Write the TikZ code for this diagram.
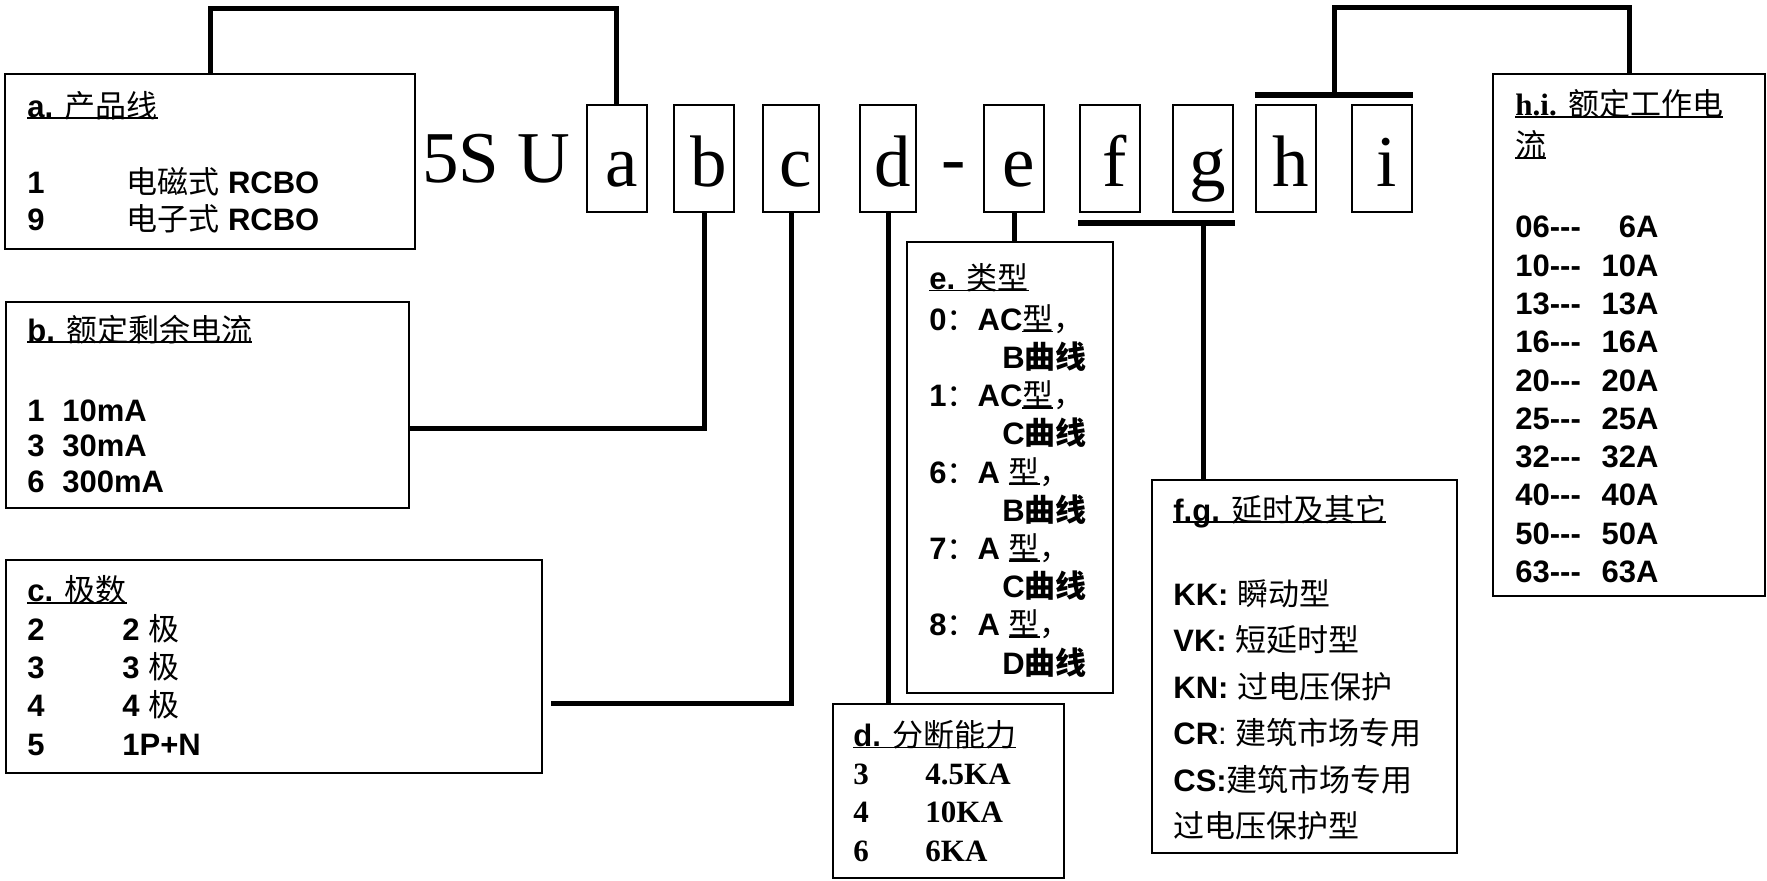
\documentclass[tikz,border=0pt]{standalone}
\usepackage{fontspec}
\setmainfont{Liberation Sans}
\newfontfamily\zhfont{Noto Sans CJK SC}
\newfontfamily\serifont{Liberation Serif}
\usetikzlibrary{calc}

\newcommand{\zh}[1]{{\zhfont\mdseries #1}}
\newcommand{\zhb}[1]{{\zhfont\bfseries #1}}
\newcommand{\ser}[1]{{\serifont\bfseries #1}}
\newcommand{\ulbar}[1]{\leavevmode\setbox0=\hbox{#1}\rlap{\rule[-1.1pt]{\wd0}{0.9pt}}\box0}
\newcommand{\fs}[1]{\fontsize{15.5}{#1}\selectfont\bfseries}
\newcommand{\hirow}[2]{\makebox[42.5pt][l]{#1}\makebox[29pt][r]{#2}}

\tikzset{
  box/.style={draw, line width=1pt, inner sep=0pt},
  letter/.style={draw, line width=1pt, inner sep=0pt, minimum width=30pt, minimum height=53.5pt,
    text height=27.5pt, text depth=0pt, font=\fontsize{36.5}{40}\selectfont\serifont,
    execute at begin node=\kern5pt},
  txt/.style={anchor=base west, align=left, inner sep=0pt},% base = last line
  link/.style={line width=2.5pt},
  bar/.style={line width=2.75pt},
}

\begin{document}
\begin{tikzpicture}[x=0.5pt,y=-0.5pt]
\useasboundingbox (0,0) rectangle (1767,880);

	% type code
	\node (pre) [anchor=base west, inner sep=0pt, font=\fontsize{36.5}{40}\selectfont\serifont] at (422,182) {5S U};
	\node [letter] (la) at (616.5,158.5) {a};
	\node [letter] (lb) at (704,158.5) {b};
	\node [letter, minimum width=28pt] (lc) at (791,158.5) {c};
	\node [letter, minimum width=28pt] (ld) at (888,158.5) {d};
	\node (dash) [anchor=base, inner sep=0pt, font=\fontsize{36.5}{40}\selectfont\serifont] at (954,182) {-};
	\node [letter] (le) at (1014,158.5) {e};
	\node [letter] (lf) at (1110,158.5) {f};
	\node [letter] (lg) at (1203,158.5) {g};
	\node [letter] (lh) at (1286,158.5) {h};
	\node [letter] (li) at (1382,158.5) {i};

	% boxes
	\node [box, minimum width=205pt, minimum height=87.5pt] (boxA) at (210,161.5) {};
	\node [box, minimum width=201.5pt, minimum height=103pt] (boxB) at (207.5,405) {};
	\node [box, minimum width=268pt, minimum height=106.5pt] (boxC) at (274,666.5) {};
	\node [box, minimum width=115.5pt, minimum height=87pt] (boxD) at (948.5,791) {};
	\node [box, minimum width=103pt, minimum height=225.5pt] (boxE) at (1010,467.5) {};
	\node [box, minimum width=152.5pt, minimum height=186.5pt] (boxFG) at (1304.5,666.5) {};
	\node [box, minimum width=136pt, minimum height=261pt] (boxHI) at (1629,335) {};

	\node [txt, font=\fs{18.75pt}] (tA) at (27,230.5) {\ulbar{a. \zh{产品线}}\\[19.25pt]
		\makebox[49.5pt][l]{1}\zh{电磁式} RCBO\\
		\makebox[49.5pt][l]{9}\zh{电子式} RCBO};

	\node [txt, font=\fs{17.75pt}] (tB) at (27,492) {\ulbar{b. \zh{额定剩余电流}}\\[22.25pt]
		\makebox[17.5pt][l]{1}10mA\\
		\makebox[17.5pt][l]{3}30mA\\
		\makebox[17.5pt][l]{6}300mA};

	\node [txt, font=\fs{19.15pt}] (tC) at (27,755) {\ulbar{c. \zh{极数}}\\
		\makebox[47.5pt][l]{2}2 \zh{极}\\
		\makebox[47.5pt][l]{3}3 \zh{极}\\
		\makebox[47.5pt][l]{4}4 \zh{极}\\
		\makebox[47.5pt][l]{5}1P+N};

	\node [txt, font=\fs{19.15pt}] (tD) at (853,861) {\ulbar{d. \zh{分断能力}}\\
		\ser{\makebox[36pt][l]{3}4.5KA}\\
		\ser{\makebox[36pt][l]{4}10KA}\\
		\ser{\makebox[36pt][l]{6}6KA}};

	\node [txt, font=\fs{19.1pt}] (tE) at (929,674) {\ulbar{e. \zh{类型}}\\[1.4pt]
		0\zh{：}AC\ulbar{\zh{型}}\zh{，}\\
		\makebox[36.5pt]{}B\zhb{曲线}\\
		1\zh{：}AC\ulbar{\zh{型}}\zh{，}\\
		\makebox[36.5pt]{}C\zhb{曲线}\\
		6\zh{：}A \ulbar{\zh{型}}\zh{，}\\
		\makebox[36.5pt]{}B\zhb{曲线}\\
		7\zh{：}A \ulbar{\zh{型}}\zh{，}\\
		\makebox[36.5pt]{}C\zhb{曲线}\\
		8\zh{：}A \ulbar{\zh{型}}\zh{，}\\
		\makebox[36.5pt]{}D\zhb{曲线}};

	\node [txt, font=\fs{23.25pt}] (tFG) at (1173,837.5) {\ulbar{f.g. \zh{延时及其它}}\\[18.75pt]
		KK: \zh{瞬动型}\\
		VK: \zh{短延时型}\\
		KN: \zh{过电压保护}\\
		CR{\mdseries :} \zh{建筑市场专用}\\
		CS:\zh{建筑市场专用}\\
		\zh{过电压保护型}};

	\node [txt, font=\fs{19.15pt}] (tHI) at (1515,582.5) {\ulbar{\ser{h.i.} \zh{额定工作电}}\\[1.35pt]
		\ulbar{\zh{流}}\\[21.35pt]
		\hirow{06-{}-{}-}{6A}\\
		\hirow{10-{}-{}-}{10A}\\
		\hirow{13-{}-{}-}{13A}\\
		\hirow{16-{}-{}-}{16A}\\
		\hirow{20-{}-{}-}{20A}\\
		\hirow{25-{}-{}-}{25A}\\
		\hirow{32-{}-{}-}{32A}\\
		\hirow{40-{}-{}-}{40A}\\
		\hirow{50-{}-{}-}{50A}\\
		\hirow{63-{}-{}-}{63A}};

	% connectors
	\draw [link] (boxA.north) -- (boxA.north |- 0,8) -| (la.north);
	\draw [link] (lb.south) |- (boxB.east |- 0,428);
	\draw [link] (lc.south) |- ($(boxC.east |- 0,703)+(8,0)$);
	\draw [link] (ld.south) -- (ld.south |- boxD.north);
	\draw [link] (le.south) -- (le.south |- boxE.north);

	\coordinate (fgbar) at ($(lg.south)+(0,10)$);
	\draw [bar] ($(lf.south west)+(-1,10)$) -- ($(lg.south east)+(1,10)$);
	\draw [link] (fgbar) -- (fgbar |- boxFG.north);

	\coordinate (hibar) at ($(lh.north)!0.5!(li.north)+(0,-9)$);
	\draw [bar] ($(lh.north west)+(0,-9)$) -- ($(li.north east)+(0,-9)$);
	\draw [link] (hibar) -- (hibar |- 0,7) -| (boxHI.north);

\end{tikzpicture}
\end{document}
